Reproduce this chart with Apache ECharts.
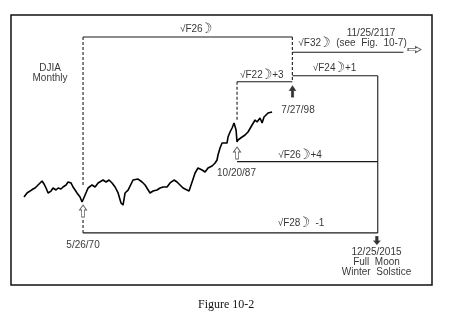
<!DOCTYPE html>
<html>
<head>
<meta charset="utf-8">
<script src="https://cdn.jsdelivr.net/npm/echarts@6/dist/echarts.min.js"></script>
<style>
html,body{margin:0;padding:0;background:#fff;}
#c{width:450px;height:315px;}
</style>
</head>
<body>
<div id="c"></div>
<script>
// DJIA monthly (approximate): decimal year and index value
const djiaYears = [1963.73,1964.07,1964.41,1964.75,1964.98,1965.20,1965.43,1965.77,1965.99,1966.22,
  1966.45,1966.78,1967.01,1967.35,1967.58,1967.91,1968.14,1968.48,1968.71,1969.04,1969.27,1969.50,
  1969.72,1970.06,1970.29,1970.40,1970.63,
  1970.97,1971.42,1971.76,1972.10,1972.66,1973.00,1973.34,1973.68,1974.02,1974.36,1974.69,1974.92,
  1975.15,1975.49,1976.05,1976.62,1977.07,1977.41,1977.97,1978.31,1978.76,1979.10,1979.44,1979.89,
  1980.23,1980.68,1981.02,1981.36,1981.70,1982.15,1982.38,1982.49,1982.72,1983.06,1983.39,1983.85,
  1984.19,1984.52,1984.98,1985.32,1985.54,1985.65,1985.88,1986.11,1986.33,1986.67,1986.78,1987.01,
  1987.24,1987.46,1987.69,1987.80,1987.91,1988.37,1988.71,1989.04,1989.50,1989.84,1990.06,1990.40,
  1990.63,1990.85,1991.30,1991.76];
const djiaValues = [668,717,742,769,783,797,841,886,841,783,
  717,742,783,756,783,769,797,826,871,856,797,756,
  717,668,611,622,692,
  783,826,797,856,902,871,902,856,797,717,600,579,
  717,755,902,918,871,826,717,742,756,783,797,797,
  856,902,871,826,783,756,742,783,871,1021,1116,1077,
  1040,1116,1156,1219,1286,1405,1590,1737,1768,1737,1932,2111,
  2266,2476,2187,1768,1832,1932,2002,2111,2390,2611,2520,2705,
  2476,2753,2956,3008];

// annotation layer: years on x, 0..100 layout scale on y
const colA = 1970.4, colB = 1987.8, colC = 1994.05, colD = 2003.7, colE = 2006.6;
const solidLines = [
  [[colA, 91.85], [colC, 91.85]],
  [[colC, 86.2], [colE, 86.2]],
  [[colC, 77.5], [colD, 77.5]],
  [[colB, 75.3], [colC, 75.3]],
  [[colB, 45.7], [colD, 45.7]],
  [[colA, 19.3], [colD, 19.3]],
  [[colD, 77.5], [colD, 19.3]]
];
const dashedLines = [
  [[colA, 91.85], [colA, 37.0]],
  [[colA, 24.1], [colA, 19.3]],
  [[colC, 91.85], [colC, 75.3]],
  [[colB, 75.3], [colB, 61.0]]
];
const labelTexts = ['√F26{m|☽}', '11/25/2117', '√F32{m|☽}  (see  Fig.  10-7)', '√F24{m|☽}+1', '√F22{m|☽}+3',
  '7/27/98', '√F26{m|☽}+4', '10/20/87', 'DJIA\nMonthly', '5/26/70', '√F28{m|☽}  -1',
  '12/25/2015\nFull  Moon\nWinter  Solstice'];
const labelYears = [1983.17, 2002.94, 2000.85, 1998.82, 1990.6, 1994.69, 1994.92, 1987.74, 1966.67, 1970.4, 1995.03, 2003.56];
const labelLevels = [94.8, 93.4, 89.4, 80.3, 77.6, 64.8, 48.1, 41.5, 78.3, 14.6, 22.8, 8.6];
// arrow markers: kind, year, level
const arrowKinds = ['hollowUp', 'hollowUp', 'solidUp', 'solidDown', 'hollowRight'];
const arrowYears = [1970.4, 1987.8, 1994.07, 2003.6, 2007.86];
const arrowLevels = [27.4, 48.9, 71.7, 16.5, 87.2];

const FONT = '"Liberation Sans", Arial, Helvetica, sans-serif';
const arrowPath = 'path://M4,0 L8,5 L5.6,5 L5.6,12 L2.4,12 L2.4,5 L0,5 Z';
const arrowStyle = {
  hollowUp: {size: [7, 12], rotate: 0, fill: '#fff'},
  solidUp: {size: [6, 11], rotate: 0, fill: '#000'},
  solidDown: {size: [6, 8], rotate: 180, fill: '#000'},
  hollowRight: {size: [6, 13], rotate: -90, fill: '#fff'}
};

const series = [];
series.push({
  type: 'line', xAxisIndex: 0, yAxisIndex: 0, showSymbol: false, silent: true,
  data: djiaYears.map((y, i) => [y, djiaValues[i]]),
  lineStyle: {color: '#000', width: 1.6}
});
solidLines.forEach(seg => series.push({
  type: 'line', xAxisIndex: 0, yAxisIndex: 1, showSymbol: false, silent: true, data: seg,
  lineStyle: {color: '#1a1a1a', width: 1.1}
}));
dashedLines.forEach(seg => series.push({
  type: 'line', xAxisIndex: 0, yAxisIndex: 1, showSymbol: false, silent: true, data: seg,
  lineStyle: {color: '#1a1a1a', width: 1.1, type: [3, 2]}
}));
series.push({
  type: 'scatter', xAxisIndex: 0, yAxisIndex: 1, silent: true, symbolSize: 0,
  itemStyle: {color: 'rgba(0,0,0,0)'},
  data: labelTexts.map((t, i) => ({value: [labelYears[i], labelLevels[i]], text: t})),
  label: {show: true, position: 'inside', color: '#000', fontSize: 10, fontFamily: FONT,
    lineHeight: 10, formatter: p => p.data.text,
    rich: {m: {fontFamily: '"DejaVu Sans", sans-serif', fontSize: 14, fontWeight: 'bold', color: '#000', lineHeight: 10, padding: [0, 0, 0, -3]}}},
  z: 5
});
series.push({
  type: 'scatter', xAxisIndex: 0, yAxisIndex: 1, silent: true, symbol: arrowPath,
  data: arrowKinds.map((k, i) => ({
    value: [arrowYears[i], arrowLevels[i]],
    symbolSize: arrowStyle[k].size,
    symbolRotate: arrowStyle[k].rotate,
    itemStyle: {color: arrowStyle[k].fill, borderColor: '#333', borderWidth: 0.9}
  })),
  z: 6
});

const chart = echarts.init(document.getElementById('c'), null, {renderer: 'canvas'});
chart.setOption({
  animation: false,
  backgroundColor: '#fff',
  title: {text: 'Figure 10-2', left: 193, top: 294,
    textStyle: {fontFamily: '"Liberation Serif", "Times New Roman", serif', fontSize: 12, fontWeight: 'normal', color: '#111'}},
  grid: {left: 11, top: 15, width: 421, height: 270, show: true, borderColor: '#111', borderWidth: 1.5, backgroundColor: 'transparent'},
  xAxis: {type: 'value', min: 1962.26, max: 2009.83, show: false},
  yAxis: [
    {type: 'log', logBase: 10, min: 140.5, max: 16770, show: false},
    {type: 'value', min: 0, max: 100, show: false}
  ],
  series: series
});
</script>
</body>
</html>
